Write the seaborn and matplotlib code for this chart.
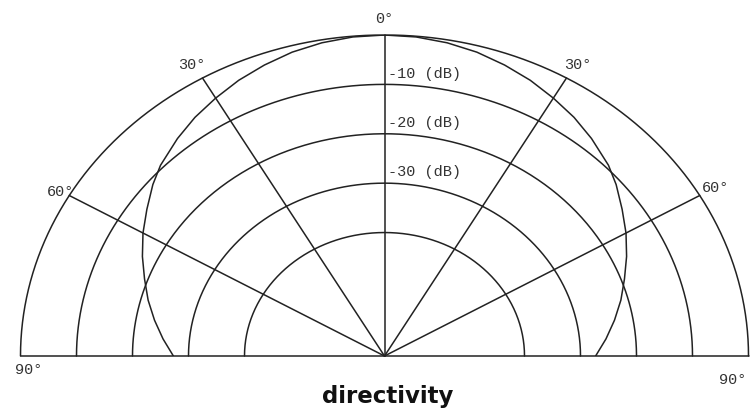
import numpy as np
import matplotlib.pyplot as plt
import seaborn as sns

# Directivity pattern (angle in degrees, level in dB)
pattern_angle = [-90, -85, -80, -75, -70, -65, -60, -55, -50, -46, -40, -35, -30,
                 -25, -20, -15, -10, -5, 0, 5, 10, 15, 20, 25, 30, 35, 40, 46,
                 50, 55, 60, 65, 70, 75, 80, 85, 90]
pattern_db = [-27.3, -25.3, -23.3, -21.3, -19.4, -17.3, -15.2, -13.2, -11.0, -9.4,
              -7.5, -6.0, -4.7, -3.4, -2.3, -1.3, -0.6, -0.15, 0,
              -0.15, -0.6, -1.3, -2.3, -3.4, -4.7, -6.0, -7.5, -9.4, -11.0,
              -13.2, -15.2, -17.3, -19.4, -21.3, -23.3, -25.3, -27.3]

# Grid: level rings and angle spokes
ring_db = [-40, -30, -20, -10, 0]
ring_labels = ['-10 (dB)', '-20 (dB)', '-30 (dB)']
ring_label_db = [-10, -20, -30]
spoke_angle = [-90, -60, -30, 0, 30, 60, 90]
angle_labels = ['90°', '60°', '30°', '0°', '30°', '60°', '90°']
db_floor = -65  # level at the centre of the plot

sns.set_style('white')
line_color = '#222222'


def to_xy(angle_deg, db):
    # polar (0° up, clockwise) -> x/y of the half circle, radius 1 at 0 dB
    r = (np.asarray(db, dtype=float) - db_floor) / -db_floor
    a = np.deg2rad(angle_deg)
    return r * np.sin(a), r * np.cos(a)


# the picture is squashed vertically, so use a plain axes with free aspect
fig = plt.figure(figsize=(7.52, 4.14), dpi=100)
ax = fig.add_axes([20.5 / 752, 57 / 414, 728 / 752, 321 / 414])
ax.set_xlim(-1, 1)
ax.set_ylim(0, 1)
ax.axis('off')

# rings
arc = np.linspace(-90, 90, 361)
for db in ring_db:
    x, y = to_xy(arc, np.full(arc.shape, db))
    ax.plot(x, y, color=line_color, lw=1.1, clip_on=False)

# spokes and the base line
for ang in spoke_angle:
    x, y = to_xy([ang, ang], [db_floor, 0])
    ax.plot(x, y, color=line_color, lw=1.1, clip_on=False)

# directivity curve
px, py = to_xy(pattern_angle, pattern_db)
sns.lineplot(x=px, y=py, sort=False, estimator=None, color=line_color,
             linewidth=1.1, ax=ax)

# level labels just above each ring, right of the centre line
label_font = dict(family='Liberation Mono', fontsize=11, color='#333333')
for lab, db in zip(ring_labels, ring_label_db):
    lx, ly = to_xy(0, db + 2.4)
    ax.annotate(lab, xy=(lx, ly), xytext=(3, 0), textcoords='offset pixels',
                ha='left', va='center', annotation_clip=False, **label_font)

# angle labels around the outer edge
offsets = [(8.5, -13), (-9, 4), (-11, 14), (0, 17), (11, 14), (15.5, 8), (-15.5, -23)]
for lab, ang, off in zip(angle_labels, spoke_angle, offsets):
    lx, ly = to_xy(ang, 0)
    ax.annotate(lab, xy=(lx, ly), xytext=off, textcoords='offset pixels',
                ha='center', va='center', annotation_clip=False, **label_font)

fig.text(387.5 / 752, 1 - 403.5 / 414, 'directivity', ha='center', va='baseline',
         fontsize=16.5, fontweight='bold', family='DejaVu Sans', color='#111111')

plt.savefig('out.png', dpi=100)
